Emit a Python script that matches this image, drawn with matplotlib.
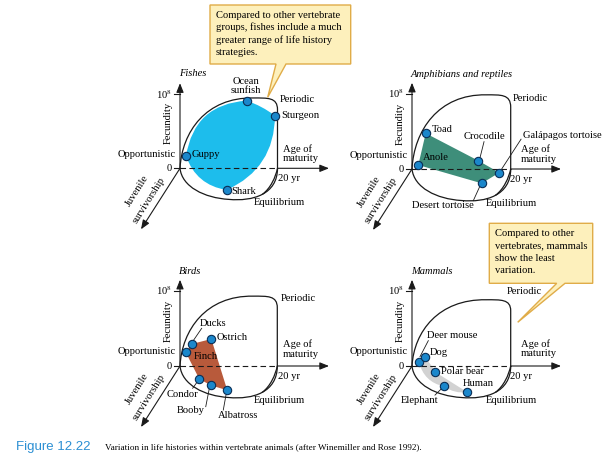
import numpy as np
import matplotlib
matplotlib.use("Agg")
import matplotlib.pyplot as plt
from matplotlib.path import Path
from matplotlib.patches import PathPatch

plt.rcParams['font.family'] = ['Liberation Serif', 'DejaVu Serif']
plt.rcParams['mathtext.fontset'] = 'stix'

# ---------------- data (panel units: x = age of maturity / 20 yr, y = fecundity / 10^8,
# negative y = projected juvenile-survivorship depth) ----------------
fish_names = ['Ocean\nsunfish', 'Sturgeon', 'Shark', 'Guppy']
fish_x = [0.684, 0.974, 0.479, 0.062]
fish_y = [0.914, 0.711, -0.293, 0.166]

amph_names = ['Toad', 'Crocodile', 'Galápagos tortoise', 'Desert tortoise', 'Anole']
amph_x = [0.139, 0.672, 0.885, 0.706, 0.064]
amph_y = [0.476, 0.111, -0.049, -0.191, 0.053]

bird_names = ['Finch', 'Ducks', 'Ostrich', 'Albatross', 'Booby', 'Condor']
bird_x = [0.059, 0.120, 0.322, 0.486, 0.316, 0.198]
bird_y = [0.183, 0.293, 0.360, -0.324, -0.257, -0.173]

mammal_names = ['Deer mouse', 'Dog', 'Polar bear', 'Human', 'Elephant']
mammal_x = [0.071, 0.132, 0.236, 0.560, 0.324]
mammal_y = [0.058, 0.121, -0.081, -0.349, -0.272]

titles = ['Fishes', 'Amphibians and reptiles', 'Birds', 'Mammals']
fill_colors = ['#1DBDEC', '#3E8E7A', '#B85A3B', '#D2D2D2']

# ---------------- layout / styling ----------------
FS = 7.6
INK = '#1a1a1a'
PT_FACE = '#1B87CB'
PT_EDGE = '#0A2E55'

# label offsets in px relative to each point: (dx, dy, ha), optional leader (x0,y0,x1,y1)
fish_lab = [(-1, -14.7, 'center', None), (6, 0, 'left', None),
            (4.3, 1.7, 'left', None), (5.7, -2, 'left', None)]
amph_lab = [(6, -4, 'left', None), (6, -24, 'center', (5.7, -19, 1.7, -3)),
            (23.4, -36.7, 'left', (21.7, -33.5, 1.7, -2.7)),
            (-39, 21.7, 'center', (-8.4, 17.4, -1.4, 2)), (4.4, -7.3, 'left', None)]
bird_lab = [(8.3, 4.4, 'left', None), (7.6, -20.7, 'left', (10, -15.7, 1, -2.5)),
            (5.4, -1.3, 'left', None), (11, 25.4, 'center', (-4, 19.7, -1.3, 4.7)),
            (-19.7, 25.4, 'center', (-5, 21.4, -1.4, 3)),
            (-17, 16, 'center', (-6.6, 9.3, -0.8, 1.2))]
mammal_lab = [(7.7, -26, 'left', (9.3, -21, 1, -5)), (4.3, -4.3, 'left', None),
              (5.4, -0.3, 'left', None), (-5, -8.7, 'left', None),
              (-24, 13.7, 'center', (-9, 8.7, -0.8, 0.6))]

# per-edge bulge of the filled region (0 = straight)
fish_bulge = [0.08, 0.32, 0.3, 0.4]
amph_bulge = [0, 0, 0, 0, 0]
bird_bulge = [0, 0, 0, 0, 0, 0]
mammal_bulge = [0, 0.05, 0, 0.2, 0.32]

panels = [
    dict(origin=(180, 168.3), W=97.5, H=74, env_h=0.99, periodic=(100, -69),
         age=(102.7, -20.6), names=fish_names, x=fish_x, y=fish_y, lab=fish_lab, bulge=fish_bulge),
    dict(origin=(412, 169), W=98.7, H=75, env_h=1.03, periodic=(100.7, -70.7),
         age=(108.7, -20.7), names=amph_names, x=amph_x, y=amph_y, lab=amph_lab, bulge=amph_bulge),
    dict(origin=(180, 366), W=97.3, H=75, env_h=0.97, periodic=(101, -67.7),
         age=(102.7, -22.7), names=bird_names, x=bird_x, y=bird_y, lab=bird_lab, bulge=bird_bulge),
    dict(origin=(412, 366), W=98.7, H=75, env_h=0.92, periodic=(94.7, -74.3),
         age=(108.7, -23.3), names=mammal_names, x=mammal_x, y=mammal_y, lab=mammal_lab, bulge=mammal_bulge),
]

# envelope template (panel units)
env_verts = [(0, 0), (0.02, 0.5), (0.27, 0.97), (0.75, 0.96),
             (0.9, 0.96), (1.0, 0.97), (1.0, 0.8),
             (1.0, 0.0),
             (1.0, -0.35), (0.75, -0.45), (0.5, -0.42),
             (0.25, -0.4), (0.02, -0.25), (0, 0)]
C4 = Path.CURVE4
env_codes = [Path.MOVETO, C4, C4, C4, C4, C4, C4, Path.LINETO, C4, C4, C4, C4, C4, C4]
inner_verts = [(1.0, 0.0), (0.98, -0.12), (0.93, -0.27), (0.844, -0.3525)]
inner_codes = [Path.MOVETO, C4, C4, C4]

fig = plt.figure(figsize=(6.14, 4.74), dpi=100)
ax = fig.add_axes([0, 0, 1, 1])
ax.set_xlim(0, 614)
ax.set_ylim(474, 0)
ax.axis('off')


def arrow(x0, y0, x1, y1):
    ax.annotate('', xy=(x1, y1), xytext=(x0, y0),
                arrowprops=dict(arrowstyle='-|>,head_length=0.55,head_width=0.22',
                                color=INK, lw=0.8, shrinkA=0, shrinkB=0), zorder=4)


def curved_polygon(pts, bulges):
    verts = [pts[0]]
    codes = [Path.MOVETO]
    n = len(pts)
    for i in range(n):
        p = np.array(pts[i]); q = np.array(pts[(i + 1) % n])
        d = q - p
        L = np.hypot(*d)
        nrm = np.array([d[1], -d[0]]) / L
        c = (p + q) / 2 + nrm * bulges[i] * L
        verts += [tuple(c), tuple(q)]
        codes += [Path.CURVE3, Path.CURVE3]
    return Path(verts, codes)


for k, P in enumerate(panels):
    ox, oy = P['origin']; W = P['W']; H = P['H']; eh = P['env_h']

    def px(u, v, ox=ox, oy=oy, W=W, H=H):
        return ox + u * W, oy - v * H

    # filled region
    pts = [px(u, v) for u, v in zip(P['x'], P['y'])]
    ax.add_patch(PathPatch(curved_polygon(pts, P['bulge']), facecolor=fill_colors[k],
                           edgecolor='none', zorder=1))

    # envelope
    ev = [px(u, v * eh if v > 0 else v) for u, v in env_verts]
    ax.add_patch(PathPatch(Path(ev, env_codes), facecolor='none', edgecolor=INK, lw=0.9, zorder=2))
    iv = [px(u, v) for u, v in inner_verts]
    ax.add_patch(PathPatch(Path(iv, inner_codes), facecolor='none', edgecolor=INK, lw=0.9, zorder=2))

    # axes
    arrow(ox, oy, ox, oy - 1.15 * H)
    ax.plot([ox - 6, ox], [oy, oy], color=INK, lw=0.8, zorder=3)
    ax.plot([ox, ox + W], [oy, oy], color=INK, lw=0.8, ls=(0, (5, 3)), zorder=3)
    arrow(ox + W, oy, ox + 149, oy)
    ax.plot([ox - 6, ox], [oy - H, oy - H], color=INK, lw=0.8, zorder=3)
    arrow(ox, oy, ox - 39, oy + 61)

    # axis texts
    ax.text(ox - 8, oy - H, '10$^{8}$', ha='right', va='center', fontsize=FS, zorder=5)
    ax.text(ox - 8, oy + 0.5, '0', ha='right', va='center', fontsize=FS, zorder=5)
    ax.text(ox - 11.5, oy - 45, 'Fecundity', rotation=90, ha='center', va='center', fontsize=FS, zorder=5)
    ax.text(ox - 42.7, oy + 22.7, 'Juvenile', rotation=57.7, ha='center', va='center',
            fontsize=FS, rotation_mode='anchor', zorder=5)
    ax.text(ox - 30.7, oy + 31.7, 'survivorship', rotation=57.7, ha='center', va='center',
            fontsize=FS, rotation_mode='anchor', zorder=5)
    ax.text(ox - 1, oy - 94.5, titles[k], ha='left', va='center', fontsize=FS, style='italic', zorder=5)
    ax.text(ox - 4, oy - 14, 'Opportunistic', ha='right', va='center', fontsize=FS, zorder=5)
    ax.text(ox + P['periodic'][0], oy + P['periodic'][1], 'Periodic', ha='left', va='center', fontsize=FS, zorder=5)
    ax.text(ox + P['age'][0], oy + P['age'][1] + 5.8, 'Age of\nmaturity', ha='left', va='center',
            fontsize=FS, linespacing=1.05, zorder=5)
    ax.text(ox + 97.5, oy + 10.5, '20 yr', ha='left', va='center', fontsize=FS, zorder=5)
    ax.text(ox + 74, oy + 34.5, 'Equilibrium', ha='left', va='center', fontsize=FS, zorder=5)

    # points and labels
    xs = [p[0] for p in pts]; ys = [p[1] for p in pts]
    ax.plot(xs, ys, 'o', ms=6, mfc=PT_FACE, mec=PT_EDGE, mew=0.8, zorder=6)
    for (x, y), name, (dx, dy, ha, lead) in zip(pts, P['names'], P['lab']):
        ax.text(x + dx, y + dy, name, ha=ha, va='center', fontsize=FS, linespacing=1.0, zorder=7)
        if lead is not None:
            ax.plot([x + lead[0], x + lead[2]], [y + lead[1], y + lead[3]], color=INK, lw=0.6, zorder=5)

# callout boxes
BOX_FACE = '#FDF0BC'
BOX_EDGE = '#E0AC48'


def callout(l, t, r, b, bl, br, tip, lines):
    verts = [(l, t), (r, t), (r, b), (br, b), tip, (bl, b), (l, b), (l, t)]
    codes = [Path.MOVETO] + [Path.LINETO] * 6 + [Path.CLOSEPOLY]
    ax.add_patch(PathPatch(Path(verts, codes), facecolor=BOX_FACE, edgecolor=BOX_EDGE,
                           lw=1.0, zorder=8, joinstyle='miter'))
    for i, s in enumerate(lines):
        ax.text(l + 6, t + 10 + i * 12.4, s, ha='left', va='center', fontsize=FS, zorder=9)


callout(210, 5, 350.7, 64, 276, 286, (267.7, 97.3),
        ['Compared to other vertebrate', 'groups, fishes include a much',
         'greater range of life history', 'strategies.'])
callout(489.3, 223.3, 592.7, 283.3, 556.7, 565, (517.7, 322.3),
        ['Compared to other', 'vertebrates, mammals', 'show the least', 'variation.'])

# caption
ax.text(16, 447, 'Figure 12.22', ha='left', va='center', fontsize=9.5,
        color='#2B8FD3', family=['Liberation Sans', 'DejaVu Sans'])
ax.text(105, 447, 'Variation in life histories within vertebrate animals (after Winemiller and Rose 1992).',
        ha='left', va='center', fontsize=6.55)

fig.savefig('out.png', dpi=100)
